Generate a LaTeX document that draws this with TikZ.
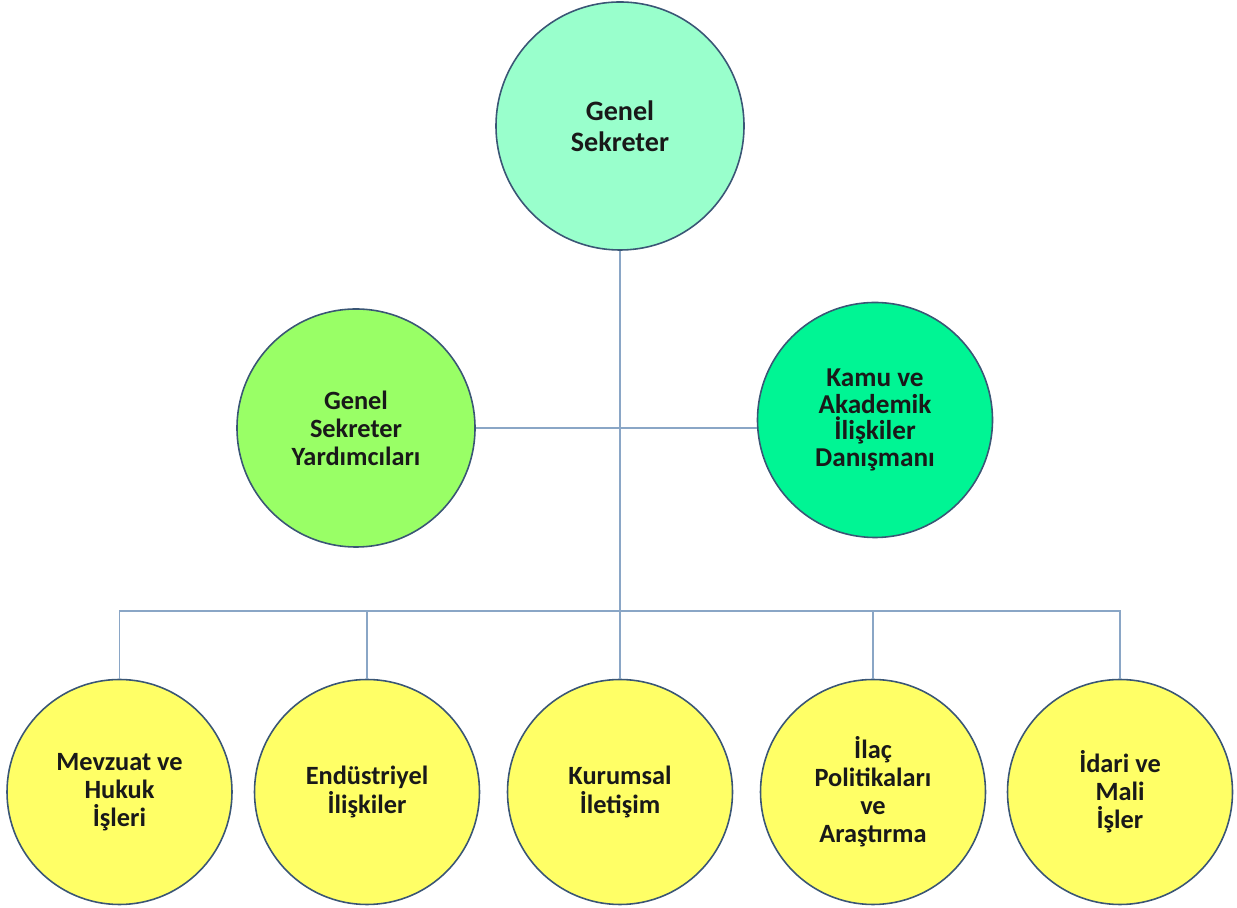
\documentclass[tikz,border=0pt]{standalone}
\usepackage{fontspec}
\setmainfont{Carlito}
\usepackage{xcolor}
\usepackage{tikz}
\usetikzlibrary{positioning,calc}

\definecolor{edgeblue}{HTML}{3A5675}
\definecolor{linkblue}{HTML}{8AA6C6}
\definecolor{headmint}{HTML}{99FFCC}
\definecolor{deputygreen}{HTML}{99FF66}
\definecolor{advisorgreen}{HTML}{00F594}
\definecolor{deptyellow}{HTML}{FFFF66}

\begin{document}
\begin{tikzpicture}[
    unit/.style={circle, draw=edgeblue, line width=0.9pt, align=center, inner sep=0pt, text=black!90},
    head/.style={unit, fill=headmint, minimum size=4.96cm, font=\fontsize{16}{17.6}\selectfont\bfseries},
    deputy/.style={unit, fill=deputygreen, minimum size=4.76cm, font=\fontsize{15}{16}\selectfont\bfseries},
    advisor/.style={unit, fill=advisorgreen, minimum size=4.70cm, font=\fontsize{15.5}{15}\selectfont\bfseries},
    dept/.style={unit, fill=deptyellow, minimum size=4.50cm, font=\fontsize{15}{16}\selectfont\bfseries},
    link/.style={draw=linkblue, line width=0.6pt}
]
\useasboundingbox (0,0) rectangle (24.74,18.16);

% Top: genel sekreter
\node[head] (gs) at (12.40, 15.64) {Genel\\Sekreter};

% Middle row
\node[deputy] (gsy) at (7.12, 9.60) {Genel\\Sekreter\\Yardımcıları};
\node[advisor] (kad) at (17.50, 9.76) {Kamu ve\\Akademik\\İlişkiler\\Danışmanı};

% Bottom row: departments
\node[dept] (mhi) at (2.39, 2.32) {Mevzuat ve\\Hukuk\\İşleri};
\node[dept] (ei) at (7.34, 2.32) {Endüstriyel\\İlişkiler};
\node[dept] (ki) at (12.40, 2.32) {Kurumsal\\İletişim};
\node[dept] (ipa) at (17.46, 2.32) {İlaç\\Politikaları\\ve\\Araştırma};
\node[dept] (imi) at (22.40, 2.32) {İdari ve\\Mali\\İşler};

% Connectors
\coordinate (bus) at (12.40, 5.94);
\draw[link] (gs.south) -- (bus);
\draw[link] (gsy.east) -- (gsy.east -| kad.west);
\foreach \d in {mhi,ei,ki,ipa,imi}
    \draw[link] (bus) -| (\d.north);

\end{tikzpicture}
\end{document}
